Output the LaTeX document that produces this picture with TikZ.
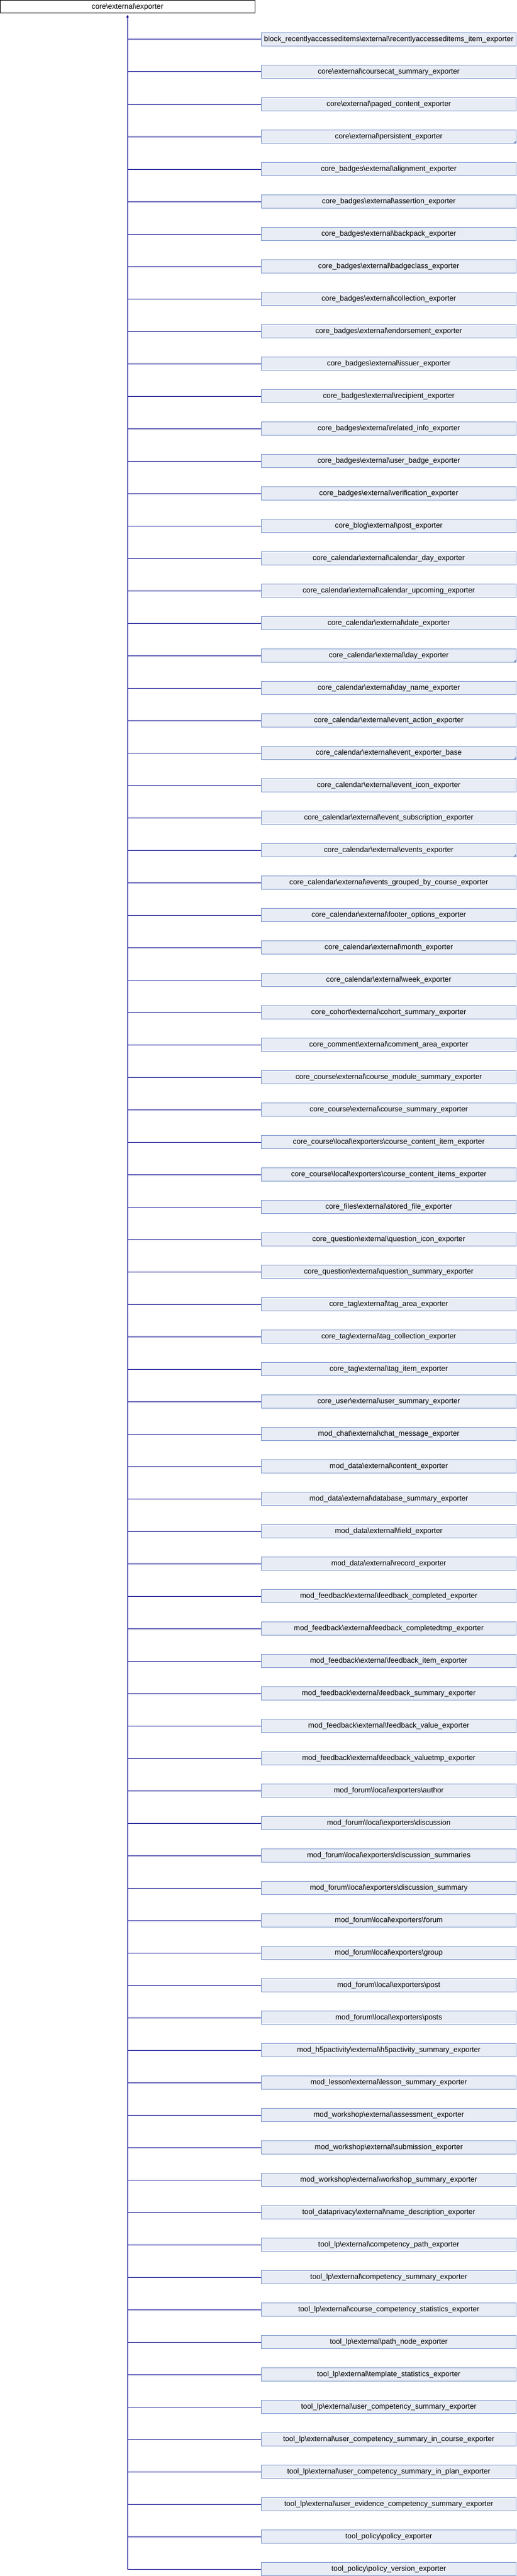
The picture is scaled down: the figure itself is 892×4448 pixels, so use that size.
\documentclass[tikz,border=0pt]{standalone}
\usepackage{fontspec}
\setmainfont{Liberation Sans}
\usetikzlibrary{arrows.meta}

\definecolor{boxfill}{RGB}{232,236,245}
\definecolor{boxline}{RGB}{125,150,205}
\definecolor{edgeblue}{RGB}{0,0,140}

\begin{document}
\begin{tikzpicture}[x=1pt,y=-1pt,
    every node/.style={font=\fontsize{12.7}{14}\selectfont, inner sep=0pt},
    rootbox/.style={draw=black, line width=1pt, fill=white, minimum width=439.5pt, minimum height=22.5pt},
    classbox/.style={draw=boxline, line width=1pt, fill=boxfill, minimum width=440pt, minimum height=23pt},
    edge/.style={draw=edgeblue, line width=1pt},
    marker/.style={fill=boxline}]

    \useasboundingbox (0,0) rectangle (892,4448);

    % the base class
    \node[rootbox] (exporter) at (220.25,11.75) {core\textbackslash external\textbackslash exporter};

    % these are the derived classes
    \node[classbox] (c1) at (671.5,68) {block\_recentlyaccesseditems\textbackslash external\textbackslash recentlyaccesseditems\_item\_exporter};
    \node[classbox] (c2) at (671.5,124) {core\textbackslash external\textbackslash coursecat\_summary\_exporter};
    \node[classbox] (c3) at (671.5,180) {core\textbackslash external\textbackslash paged\_content\_exporter};
    \node[classbox] (c4) at (671.5,236) {core\textbackslash external\textbackslash persistent\_exporter};
    \node[classbox] (c5) at (671.5,292) {core\_badges\textbackslash external\textbackslash alignment\_exporter};
    \node[classbox] (c6) at (671.5,348) {core\_badges\textbackslash external\textbackslash assertion\_exporter};
    \node[classbox] (c7) at (671.5,404) {core\_badges\textbackslash external\textbackslash backpack\_exporter};
    \node[classbox] (c8) at (671.5,460) {core\_badges\textbackslash external\textbackslash badgeclass\_exporter};
    \node[classbox] (c9) at (671.5,516) {core\_badges\textbackslash external\textbackslash collection\_exporter};
    \node[classbox] (c10) at (671.5,572) {core\_badges\textbackslash external\textbackslash endorsement\_exporter};
    \node[classbox] (c11) at (671.5,628) {core\_badges\textbackslash external\textbackslash issuer\_exporter};
    \node[classbox] (c12) at (671.5,684) {core\_badges\textbackslash external\textbackslash recipient\_exporter};
    \node[classbox] (c13) at (671.5,740) {core\_badges\textbackslash external\textbackslash related\_info\_exporter};
    \node[classbox] (c14) at (671.5,796) {core\_badges\textbackslash external\textbackslash user\_badge\_exporter};
    \node[classbox] (c15) at (671.5,852) {core\_badges\textbackslash external\textbackslash verification\_exporter};
    \node[classbox] (c16) at (671.5,908) {core\_blog\textbackslash external\textbackslash post\_exporter};
    \node[classbox] (c17) at (671.5,964) {core\_calendar\textbackslash external\textbackslash calendar\_day\_exporter};
    \node[classbox] (c18) at (671.5,1020) {core\_calendar\textbackslash external\textbackslash calendar\_upcoming\_exporter};
    \node[classbox] (c19) at (671.5,1076) {core\_calendar\textbackslash external\textbackslash date\_exporter};
    \node[classbox] (c20) at (671.5,1132) {core\_calendar\textbackslash external\textbackslash day\_exporter};
    \node[classbox] (c21) at (671.5,1188) {core\_calendar\textbackslash external\textbackslash day\_name\_exporter};
    \node[classbox] (c22) at (671.5,1244) {core\_calendar\textbackslash external\textbackslash event\_action\_exporter};
    \node[classbox] (c23) at (671.5,1300) {core\_calendar\textbackslash external\textbackslash event\_exporter\_base};
    \node[classbox] (c24) at (671.5,1356) {core\_calendar\textbackslash external\textbackslash event\_icon\_exporter};
    \node[classbox] (c25) at (671.5,1412) {core\_calendar\textbackslash external\textbackslash event\_subscription\_exporter};
    \node[classbox] (c26) at (671.5,1468) {core\_calendar\textbackslash external\textbackslash events\_exporter};
    \node[classbox] (c27) at (671.5,1524) {core\_calendar\textbackslash external\textbackslash events\_grouped\_by\_course\_exporter};
    \node[classbox] (c28) at (671.5,1580) {core\_calendar\textbackslash external\textbackslash footer\_options\_exporter};
    \node[classbox] (c29) at (671.5,1636) {core\_calendar\textbackslash external\textbackslash month\_exporter};
    \node[classbox] (c30) at (671.5,1692) {core\_calendar\textbackslash external\textbackslash week\_exporter};
    \node[classbox] (c31) at (671.5,1748) {core\_cohort\textbackslash external\textbackslash cohort\_summary\_exporter};
    \node[classbox] (c32) at (671.5,1804) {core\_comment\textbackslash external\textbackslash comment\_area\_exporter};
    \node[classbox] (c33) at (671.5,1860) {core\_course\textbackslash external\textbackslash course\_module\_summary\_exporter};
    \node[classbox] (c34) at (671.5,1916) {core\_course\textbackslash external\textbackslash course\_summary\_exporter};
    \node[classbox] (c35) at (671.5,1972) {core\_course\textbackslash local\textbackslash exporters\textbackslash course\_content\_item\_exporter};
    \node[classbox] (c36) at (671.5,2028) {core\_course\textbackslash local\textbackslash exporters\textbackslash course\_content\_items\_exporter};
    \node[classbox] (c37) at (671.5,2084) {core\_files\textbackslash external\textbackslash stored\_file\_exporter};
    \node[classbox] (c38) at (671.5,2140) {core\_question\textbackslash external\textbackslash question\_icon\_exporter};
    \node[classbox] (c39) at (671.5,2196) {core\_question\textbackslash external\textbackslash question\_summary\_exporter};
    \node[classbox] (c40) at (671.5,2252) {core\_tag\textbackslash external\textbackslash tag\_area\_exporter};
    \node[classbox] (c41) at (671.5,2308) {core\_tag\textbackslash external\textbackslash tag\_collection\_exporter};
    \node[classbox] (c42) at (671.5,2364) {core\_tag\textbackslash external\textbackslash tag\_item\_exporter};
    \node[classbox] (c43) at (671.5,2420) {core\_user\textbackslash external\textbackslash user\_summary\_exporter};
    \node[classbox] (c44) at (671.5,2476) {mod\_chat\textbackslash external\textbackslash chat\_message\_exporter};
    \node[classbox] (c45) at (671.5,2532) {mod\_data\textbackslash external\textbackslash content\_exporter};
    \node[classbox] (c46) at (671.5,2588) {mod\_data\textbackslash external\textbackslash database\_summary\_exporter};
    \node[classbox] (c47) at (671.5,2644) {mod\_data\textbackslash external\textbackslash field\_exporter};
    \node[classbox] (c48) at (671.5,2700) {mod\_data\textbackslash external\textbackslash record\_exporter};
    \node[classbox] (c49) at (671.5,2756) {mod\_feedback\textbackslash external\textbackslash feedback\_completed\_exporter};
    \node[classbox] (c50) at (671.5,2812) {mod\_feedback\textbackslash external\textbackslash feedback\_completedtmp\_exporter};
    \node[classbox] (c51) at (671.5,2868) {mod\_feedback\textbackslash external\textbackslash feedback\_item\_exporter};
    \node[classbox] (c52) at (671.5,2924) {mod\_feedback\textbackslash external\textbackslash feedback\_summary\_exporter};
    \node[classbox] (c53) at (671.5,2980) {mod\_feedback\textbackslash external\textbackslash feedback\_value\_exporter};
    \node[classbox] (c54) at (671.5,3036) {mod\_feedback\textbackslash external\textbackslash feedback\_valuetmp\_exporter};
    \node[classbox] (c55) at (671.5,3092) {mod\_forum\textbackslash local\textbackslash exporters\textbackslash author};
    \node[classbox] (c56) at (671.5,3148) {mod\_forum\textbackslash local\textbackslash exporters\textbackslash discussion};
    \node[classbox] (c57) at (671.5,3204) {mod\_forum\textbackslash local\textbackslash exporters\textbackslash discussion\_summaries};
    \node[classbox] (c58) at (671.5,3260) {mod\_forum\textbackslash local\textbackslash exporters\textbackslash discussion\_summary};
    \node[classbox] (c59) at (671.5,3316) {mod\_forum\textbackslash local\textbackslash exporters\textbackslash forum};
    \node[classbox] (c60) at (671.5,3372) {mod\_forum\textbackslash local\textbackslash exporters\textbackslash group};
    \node[classbox] (c61) at (671.5,3428) {mod\_forum\textbackslash local\textbackslash exporters\textbackslash post};
    \node[classbox] (c62) at (671.5,3484) {mod\_forum\textbackslash local\textbackslash exporters\textbackslash posts};
    \node[classbox] (c63) at (671.5,3540) {mod\_h5pactivity\textbackslash external\textbackslash h5pactivity\_summary\_exporter};
    \node[classbox] (c64) at (671.5,3596) {mod\_lesson\textbackslash external\textbackslash lesson\_summary\_exporter};
    \node[classbox] (c65) at (671.5,3652) {mod\_workshop\textbackslash external\textbackslash assessment\_exporter};
    \node[classbox] (c66) at (671.5,3708) {mod\_workshop\textbackslash external\textbackslash submission\_exporter};
    \node[classbox] (c67) at (671.5,3764) {mod\_workshop\textbackslash external\textbackslash workshop\_summary\_exporter};
    \node[classbox] (c68) at (671.5,3820) {tool\_dataprivacy\textbackslash external\textbackslash name\_description\_exporter};
    \node[classbox] (c69) at (671.5,3876) {tool\_lp\textbackslash external\textbackslash competency\_path\_exporter};
    \node[classbox] (c70) at (671.5,3932) {tool\_lp\textbackslash external\textbackslash competency\_summary\_exporter};
    \node[classbox] (c71) at (671.5,3988) {tool\_lp\textbackslash external\textbackslash course\_competency\_statistics\_exporter};
    \node[classbox] (c72) at (671.5,4044) {tool\_lp\textbackslash external\textbackslash path\_node\_exporter};
    \node[classbox] (c73) at (671.5,4100) {tool\_lp\textbackslash external\textbackslash template\_statistics\_exporter};
    \node[classbox] (c74) at (671.5,4156) {tool\_lp\textbackslash external\textbackslash user\_competency\_summary\_exporter};
    \node[classbox] (c75) at (671.5,4212) {tool\_lp\textbackslash external\textbackslash user\_competency\_summary\_in\_course\_exporter};
    \node[classbox] (c76) at (671.5,4268) {tool\_lp\textbackslash external\textbackslash user\_competency\_summary\_in\_plan\_exporter};
    \node[classbox] (c77) at (671.5,4324) {tool\_lp\textbackslash external\textbackslash user\_evidence\_competency\_summary\_exporter};
    \node[classbox] (c78) at (671.5,4380) {tool\_policy\textbackslash policy\_exporter};
    \node[classbox] (c79) at (671.5,4436) {tool\_policy\textbackslash policy\_version\_exporter};

    % corner marks on classes that have more children
    \fill[marker] (c4.south east) -- ++(-6,0) -- ++(6,-6) -- cycle;
    \fill[marker] (c20.south east) -- ++(-6,0) -- ++(6,-6) -- cycle;
    \fill[marker] (c23.south east) -- ++(-6,0) -- ++(6,-6) -- cycle;
    \fill[marker] (c26.south east) -- ++(-6,0) -- ++(6,-6) -- cycle;

    % the trunk, with the arrow at the base class
    \coordinate (trunk) at (exporter.south |- c79.west);
    \draw[edge, {Triangle[length=4.5pt,width=4.5pt]}-, shorten <=2.5pt] (exporter.south) -- (trunk);

    % the branches
    \draw[edge] (exporter.south |- c1.west) -- (c1.west);
    \draw[edge] (exporter.south |- c2.west) -- (c2.west);
    \draw[edge] (exporter.south |- c3.west) -- (c3.west);
    \draw[edge] (exporter.south |- c4.west) -- (c4.west);
    \draw[edge] (exporter.south |- c5.west) -- (c5.west);
    \draw[edge] (exporter.south |- c6.west) -- (c6.west);
    \draw[edge] (exporter.south |- c7.west) -- (c7.west);
    \draw[edge] (exporter.south |- c8.west) -- (c8.west);
    \draw[edge] (exporter.south |- c9.west) -- (c9.west);
    \draw[edge] (exporter.south |- c10.west) -- (c10.west);
    \draw[edge] (exporter.south |- c11.west) -- (c11.west);
    \draw[edge] (exporter.south |- c12.west) -- (c12.west);
    \draw[edge] (exporter.south |- c13.west) -- (c13.west);
    \draw[edge] (exporter.south |- c14.west) -- (c14.west);
    \draw[edge] (exporter.south |- c15.west) -- (c15.west);
    \draw[edge] (exporter.south |- c16.west) -- (c16.west);
    \draw[edge] (exporter.south |- c17.west) -- (c17.west);
    \draw[edge] (exporter.south |- c18.west) -- (c18.west);
    \draw[edge] (exporter.south |- c19.west) -- (c19.west);
    \draw[edge] (exporter.south |- c20.west) -- (c20.west);
    \draw[edge] (exporter.south |- c21.west) -- (c21.west);
    \draw[edge] (exporter.south |- c22.west) -- (c22.west);
    \draw[edge] (exporter.south |- c23.west) -- (c23.west);
    \draw[edge] (exporter.south |- c24.west) -- (c24.west);
    \draw[edge] (exporter.south |- c25.west) -- (c25.west);
    \draw[edge] (exporter.south |- c26.west) -- (c26.west);
    \draw[edge] (exporter.south |- c27.west) -- (c27.west);
    \draw[edge] (exporter.south |- c28.west) -- (c28.west);
    \draw[edge] (exporter.south |- c29.west) -- (c29.west);
    \draw[edge] (exporter.south |- c30.west) -- (c30.west);
    \draw[edge] (exporter.south |- c31.west) -- (c31.west);
    \draw[edge] (exporter.south |- c32.west) -- (c32.west);
    \draw[edge] (exporter.south |- c33.west) -- (c33.west);
    \draw[edge] (exporter.south |- c34.west) -- (c34.west);
    \draw[edge] (exporter.south |- c35.west) -- (c35.west);
    \draw[edge] (exporter.south |- c36.west) -- (c36.west);
    \draw[edge] (exporter.south |- c37.west) -- (c37.west);
    \draw[edge] (exporter.south |- c38.west) -- (c38.west);
    \draw[edge] (exporter.south |- c39.west) -- (c39.west);
    \draw[edge] (exporter.south |- c40.west) -- (c40.west);
    \draw[edge] (exporter.south |- c41.west) -- (c41.west);
    \draw[edge] (exporter.south |- c42.west) -- (c42.west);
    \draw[edge] (exporter.south |- c43.west) -- (c43.west);
    \draw[edge] (exporter.south |- c44.west) -- (c44.west);
    \draw[edge] (exporter.south |- c45.west) -- (c45.west);
    \draw[edge] (exporter.south |- c46.west) -- (c46.west);
    \draw[edge] (exporter.south |- c47.west) -- (c47.west);
    \draw[edge] (exporter.south |- c48.west) -- (c48.west);
    \draw[edge] (exporter.south |- c49.west) -- (c49.west);
    \draw[edge] (exporter.south |- c50.west) -- (c50.west);
    \draw[edge] (exporter.south |- c51.west) -- (c51.west);
    \draw[edge] (exporter.south |- c52.west) -- (c52.west);
    \draw[edge] (exporter.south |- c53.west) -- (c53.west);
    \draw[edge] (exporter.south |- c54.west) -- (c54.west);
    \draw[edge] (exporter.south |- c55.west) -- (c55.west);
    \draw[edge] (exporter.south |- c56.west) -- (c56.west);
    \draw[edge] (exporter.south |- c57.west) -- (c57.west);
    \draw[edge] (exporter.south |- c58.west) -- (c58.west);
    \draw[edge] (exporter.south |- c59.west) -- (c59.west);
    \draw[edge] (exporter.south |- c60.west) -- (c60.west);
    \draw[edge] (exporter.south |- c61.west) -- (c61.west);
    \draw[edge] (exporter.south |- c62.west) -- (c62.west);
    \draw[edge] (exporter.south |- c63.west) -- (c63.west);
    \draw[edge] (exporter.south |- c64.west) -- (c64.west);
    \draw[edge] (exporter.south |- c65.west) -- (c65.west);
    \draw[edge] (exporter.south |- c66.west) -- (c66.west);
    \draw[edge] (exporter.south |- c67.west) -- (c67.west);
    \draw[edge] (exporter.south |- c68.west) -- (c68.west);
    \draw[edge] (exporter.south |- c69.west) -- (c69.west);
    \draw[edge] (exporter.south |- c70.west) -- (c70.west);
    \draw[edge] (exporter.south |- c71.west) -- (c71.west);
    \draw[edge] (exporter.south |- c72.west) -- (c72.west);
    \draw[edge] (exporter.south |- c73.west) -- (c73.west);
    \draw[edge] (exporter.south |- c74.west) -- (c74.west);
    \draw[edge] (exporter.south |- c75.west) -- (c75.west);
    \draw[edge] (exporter.south |- c76.west) -- (c76.west);
    \draw[edge] (exporter.south |- c77.west) -- (c77.west);
    \draw[edge] (exporter.south |- c78.west) -- (c78.west);
    \draw[edge] (exporter.south |- c79.west) -- (c79.west);

\end{tikzpicture}
\end{document}
